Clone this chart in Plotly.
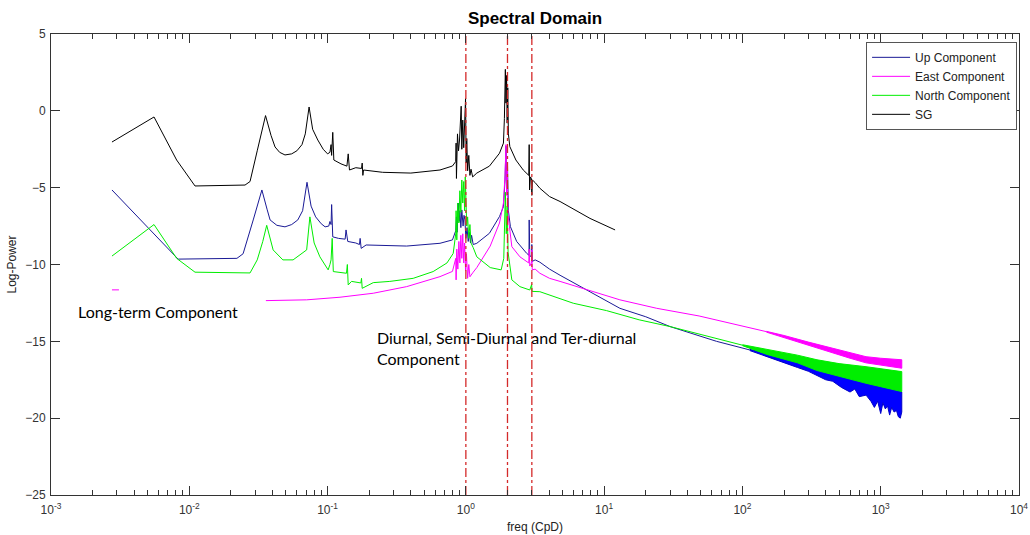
import plotly.graph_objects as go

# ---------------- data ----------------
sg_freq = [0.00276, 0.00556, 0.0081, 0.011, 0.0253, 0.0275, 0.031, 0.0356, 0.039, 0.0417,
           0.045, 0.0492, 0.055, 0.060, 0.0653, 0.069, 0.0735, 0.078, 0.085, 0.093,
           0.100, 0.104, 0.106, 0.107, 0.109, 0.111, 0.125, 0.138, 0.141, 0.144,
           0.160, 0.176, 0.178, 0.180, 0.182, 0.25, 0.40, 0.65, 0.80, 0.845,
           0.85, 0.855, 0.87, 0.885, 0.90, 0.925, 0.935, 0.95, 0.965, 0.98,
           0.995, 1.005, 1.015, 1.03, 1.05, 1.07, 1.09, 1.12, 1.2, 1.48,
           1.75, 1.87, 1.90, 1.93, 1.95, 1.97, 1.99, 2.01, 2.03, 2.08,
           2.3, 2.6, 2.85, 2.87, 2.89, 2.93, 2.98, 3.0, 3.03, 3.17,
           3.43, 4.03, 4.8, 7.9, 12.0]
sg_power = [-2.03, -0.4, -3.2, -4.89, -4.83, -4.6, -2.6, -0.31, -1.6, -2.35,
            -2.7, -2.87, -2.8, -2.6, -2.2, -1.5, 0.25, -1.2, -1.9, -2.5,
            -2.8, -2.7, -2.2, -2.9, -1.4, -3.2, -3.45, -3.6, -2.8, -3.85,
            -3.7, -3.75, -3.4, -4.2, -3.85, -4.0, -4.05, -3.85, -3.59, -3.3,
            -2.1, -4.4, -1.5, -2.6, -1.9, 0.3, -2.5, -0.6, -2.4, -0.9,
            0.8, -3.4, -1.8, -3.9, -2.9, -4.2, -3.8, -4.3, -4.05, -3.6,
            -2.76, -2.1, -0.5, 2.7, 0.5, 2.3, -0.8, 1.5, -1.5, -2.33,
            -3.2, -3.85, -4.2, -2.2, -5.15, -4.3, -4.4, -5.5, -4.5, -4.67,
            -5.04, -5.58, -5.9, -7.0, -7.75]

up_freq = [0.00276, 0.0083, 0.0221, 0.0245, 0.0290, 0.0335, 0.0365, 0.0384, 0.043, 0.0492,
           0.055, 0.0609, 0.066, 0.071, 0.076, 0.082, 0.090, 0.096, 0.102, 0.104,
           0.106, 0.107, 0.109, 0.120, 0.134, 0.136, 0.140, 0.160, 0.170, 0.172,
           0.175, 0.19, 0.373, 0.65, 0.80, 0.845, 0.855, 0.865, 0.88, 0.895,
           0.905, 0.92, 0.935, 0.955, 0.97, 0.985, 1.0, 1.02, 1.04, 1.06,
           1.08, 1.10, 1.13, 1.2, 1.48, 1.75, 1.87, 1.92, 1.95, 1.97,
           2.0, 2.03, 2.1, 2.33, 2.75, 2.86, 2.87, 2.90, 2.98, 3.0,
           3.02, 3.17, 3.43, 4.03, 4.8, 7.9, 13.0, 20.0, 30.0, 65.0, 113.0]
up_power = [-5.15, -9.65, -9.6, -9.3, -7.1, -5.15, -6.4, -7.1, -7.45, -7.55,
            -7.4, -7.1, -6.5, -4.65, -6.2, -6.9, -7.35, -7.55, -7.5, -7.2,
            -7.4, -6.1, -8.2, -8.3, -8.35, -7.75, -8.5, -8.6, -8.7, -8.3,
            -8.95, -8.73, -8.8, -8.62, -8.4, -7.8, -6.9, -7.9, -6.0, -7.2,
            -6.5, -7.6, -6.45, -7.5, -6.8, -7.1, -8.3, -7.6, -8.5, -7.9,
            -8.6, -8.1, -8.7, -8.62, -7.97, -6.88, -6.24, -4.5, -2.3, -5.0,
            -3.5, -6.5, -7.54, -8.5, -9.27, -9.4, -7.1, -9.5, -9.4, -8.7,
            -9.8, -9.7, -9.85, -10.3, -10.7, -11.8, -12.85, -13.4, -14.04, -15.0, -15.56]

north_freq = [0.00276, 0.00556, 0.0081, 0.011, 0.0275, 0.031, 0.034, 0.0363, 0.0404, 0.0475,
              0.0563, 0.0706, 0.0745, 0.080, 0.088, 0.101, 0.104, 0.106, 0.108, 0.110,
              0.137, 0.139, 0.141, 0.149, 0.174, 0.176, 0.178, 0.214, 0.282, 0.416,
              0.58, 0.73, 0.81, 0.845, 0.85, 0.86, 0.875, 0.89, 0.905, 0.92,
              0.935, 0.95, 0.965, 0.98, 0.99, 1.0, 1.015, 1.03, 1.05, 1.07,
              1.09, 1.13, 1.2, 1.5, 1.8, 1.88, 1.91, 1.93, 1.96, 1.99,
              2.02, 2.15, 2.46, 2.9, 2.99, 3.01, 3.43, 4.03, 5.98, 10.4,
              17.9, 30.0, 86.0, 100.0]
north_power = [-9.45, -7.4, -9.6, -10.5, -10.55, -9.7, -8.5, -7.45, -9.05, -9.7,
               -9.7, -9.05, -6.9, -8.6, -9.5, -10.35, -10.0, -9.7, -8.3, -10.46,
               -10.57, -10.0, -11.33, -11.1, -11.2, -10.9, -11.55, -11.18, -11.1, -10.9,
               -10.46, -9.9, -9.28, -8.0, -6.5, -8.4, -6.0, -7.3, -5.2, -6.6,
               -4.5, -6.0, -4.6, -6.5, -4.3, -5.5, -7.5, -6.9, -8.3, -7.4,
               -8.6, -8.9, -9.5, -10.2, -10.35, -9.6, -7.5, -5.3, -8.0, -6.2,
               -9.2, -11.0, -11.44, -11.66, -11.3, -11.75, -11.77, -12.0, -12.52, -13.0,
               -13.6, -14.04, -15.1, -15.25]

east_freq = [0.00276, 0.0031, None, 0.0358, 0.0706, 0.123, 0.214, 0.373, 0.65, 0.80,
             0.845, 0.85, 0.86, 0.875, 0.89, 0.905, 0.92, 0.935, 0.95, 0.965,
             0.98, 0.995, 1.01, 1.03, 1.05, 1.07, 1.10, 1.13, 1.2, 1.5,
             1.75, 1.87, 1.92, 1.95, 1.97, 1.99, 2.02, 2.15, 2.46, 2.85,
             2.87, 2.9, 2.98, 3.0, 3.02, 3.17, 3.43, 4.03, 4.8, 7.9,
             13.0, 24.0, 48.6, 149.0]
east_power = [-11.65, -11.65, None, -12.35, -12.3, -12.13, -11.87, -11.44, -10.79, -10.45,
              -9.6, -11.0, -9.0, -10.3, -8.5, -9.9, -8.1, -9.6, -8.0, -9.9,
              -8.6, -10.4, -9.3, -10.9, -10.0, -10.8, -10.6, -10.5, -10.2, -8.8,
              -7.3, -6.0, -4.2, -2.2, -5.5, -3.8, -6.8, -8.84, -9.5, -9.9,
              -9.0, -10.1, -9.9, -9.05, -10.35, -10.3, -10.57, -10.9, -11.1, -11.7,
              -12.3, -12.85, -13.35, -14.37]

# high-frequency noise envelopes (upper / lower edge of the dense noisy band)
up_band_freq = [113, 150, 196, 250, 300, 346, 400, 450, 520, 600, 650, 700, 783, 850,
                900, 950, 1000, 1037, 1080, 1120, 1160, 1200, 1250, 1300, 1340, 1385, 1420]
up_band_upper = [-15.52, -15.8, -16.0, -16.3, -16.5, -16.65, -16.85, -17.0, -17.15, -17.3,
                 -17.35, -17.45, -17.5, -17.6, -17.65, -17.7, -17.75, -17.8, -17.85, -17.9,
                 -17.95, -18.0, -18.05, -18.1, -18.15, -18.25, -18.3]
up_band_lower = [-15.6, -16.0, -16.35, -16.7, -16.95, -17.2, -17.5, -17.6, -18.0, -18.3,
                 -18.1, -18.6, -18.5, -18.9, -19.3, -18.9, -19.7, -19.0, -19.4, -19.2,
                 -19.8, -19.3, -19.6, -19.5, -19.9, -20.0, -19.6]

east_band_freq = [149, 200, 300, 451, 600, 783, 1000, 1200, 1420]
east_band_upper = [-14.35, -14.62, -15.05, -15.45, -15.75, -16.0, -16.1, -16.15, -16.2]
east_band_lower = [-14.4, -14.75, -15.25, -15.75, -16.1, -16.4, -16.55, -16.65, -16.75]

north_band_freq = [100, 150, 250, 346, 500, 783, 1000, 1200, 1420]
north_band_upper = [-15.22, -15.5, -15.9, -16.2, -16.45, -16.65, -16.8, -16.9, -16.97]
north_band_lower = [-15.28, -15.85, -16.4, -16.9, -17.3, -17.73, -17.95, -18.1, -18.27]

tidal_freq = [1.0, 2.0, 3.0]

x_tick_vals = [1e-3, 1e-2, 1e-1, 1e0, 1e1, 1e2, 1e3, 1e4]
x_tick_text = ['10<sup>-3</sup>', '10<sup>-2</sup>', '10<sup>-1</sup>', '10<sup>0</sup>',
               '10<sup>1</sup>', '10<sup>2</sup>', '10<sup>3</sup>', '10<sup>4</sup>']
x_minor_vals = [m * 10.0 ** e for e in range(-3, 4) for m in range(2, 10)]

# ---------------- figure ----------------
BLUE_LINE = '#1a1a96'
BLUE_FILL = '#0000ff'
MAG = '#ff00ff'
GRN = '#00ee00'
AX = '#333333'

fig = go.Figure()


def add_band(freq, upper, lower, fill, edge):
    fig.add_trace(go.Scatter(x=freq + freq[::-1], y=upper + lower[::-1], mode='lines',
                             fill='toself', fillcolor=fill, line=dict(color=edge, width=1),
                             showlegend=False, hoverinfo='skip'))


fig.add_trace(go.Scatter(x=up_freq, y=up_power, mode='lines', name='Up Component',
                         line=dict(color=BLUE_LINE, width=1)))
add_band(up_band_freq, up_band_upper, up_band_lower, BLUE_FILL, '#0000c8')

fig.add_trace(go.Scatter(x=east_freq, y=east_power, mode='lines', name='East Component',
                         line=dict(color=MAG, width=1), connectgaps=False))
add_band(east_band_freq, east_band_upper, east_band_lower, MAG, MAG)

fig.add_trace(go.Scatter(x=north_freq, y=north_power, mode='lines', name='North Component',
                         line=dict(color=GRN, width=1)))
add_band(north_band_freq, north_band_upper, north_band_lower, GRN, GRN)

fig.add_trace(go.Scatter(x=sg_freq, y=sg_power, mode='lines', name='SG',
                         line=dict(color='black', width=1)))

# tidal marker lines live on the overlay axis that also carries the minor ticks
for f in tidal_freq:
    fig.add_trace(go.Scatter(x=[f, f], y=[-25, 5], mode='lines', showlegend=False,
                             xaxis='x2', line=dict(color='#d42a2a', width=1.3, dash='dashdot'),
                             hoverinfo='skip'))

tick_font = dict(family='Liberation Sans, Arial, sans-serif', size=12, color=AX)

fig.update_layout(
    width=1030, height=535,
    margin=dict(l=51, r=11, t=34, b=40, autoexpand=False),
    paper_bgcolor='white', plot_bgcolor='white',
    font=dict(family='Liberation Sans, Arial, sans-serif', size=12, color='#222'),
    title=dict(text='<b>Spectral Domain</b>', x=0.5, xref='paper', xanchor='center',
               y=1 - 18.5 / 535, yref='container', yanchor='middle',
               font=dict(family='Liberation Sans, Arial, sans-serif', size=17, color='black')),
    showlegend=True,
    legend=dict(x=0.998, xanchor='right', y=0.983, yanchor='top',
                bgcolor='white', bordercolor='#555', borderwidth=1, itemwidth=38,
                font=dict(family='Liberation Sans, Arial, sans-serif', size=12, color='#222'),
                tracegroupgap=0),
    xaxis=dict(type='log', range=[-3, 4], tickmode='array', tickvals=x_tick_vals,
               ticktext=x_tick_text, ticks='inside', ticklen=9, tickwidth=1, tickcolor=AX,
               showline=True, linecolor=AX, linewidth=1, mirror='ticks',
               showgrid=False, zeroline=False, tickfont=tick_font, automargin=False,
               ticklabelstandoff=4,
               title=dict(text='freq (CpD)', font=dict(size=12, color='#222'), standoff=6)),
    xaxis2=dict(type='log', range=[-3, 4], overlaying='x', side='bottom',
                tickmode='array', tickvals=x_minor_vals, showticklabels=False,
                ticks='inside', ticklen=5, tickwidth=1, tickcolor=AX,
                showline=True, linecolor=AX, linewidth=1, mirror='ticks',
                showgrid=False, zeroline=False, automargin=False),
    yaxis=dict(range=[-25, 5], tickmode='linear', tick0=0, dtick=5, ticks='inside',
               ticklen=9, tickwidth=1, tickcolor=AX, showline=True, linecolor=AX,
               linewidth=1, mirror='ticks', showgrid=False, zeroline=False, tickfont=tick_font,
               automargin=False, ticklabelstandoff=2,
               title=dict(text='Log-Power', font=dict(size=12, color='#222'), standoff=6)),
)

fig.add_annotation(text='Long-term Component', xref='paper', yref='paper',
                   x=(76 - 51) / 968, y=(495 - 311) / 461, xanchor='left', yanchor='middle',
                   showarrow=False, align='left',
                   font=dict(family='Lato, sans-serif', size=16, color='black'))
fig.add_annotation(text='Diurnal, Semi-Diurnal and Ter-diurnal<br>Component',
                   xref='paper', yref='paper',
                   x=(375 - 51) / 968, y=(495 - 348) / 461, xanchor='left', yanchor='middle',
                   showarrow=False, align='left',
                   font=dict(family='Lato, sans-serif', size=16, color='black'))

fig.write_html('out.html')
